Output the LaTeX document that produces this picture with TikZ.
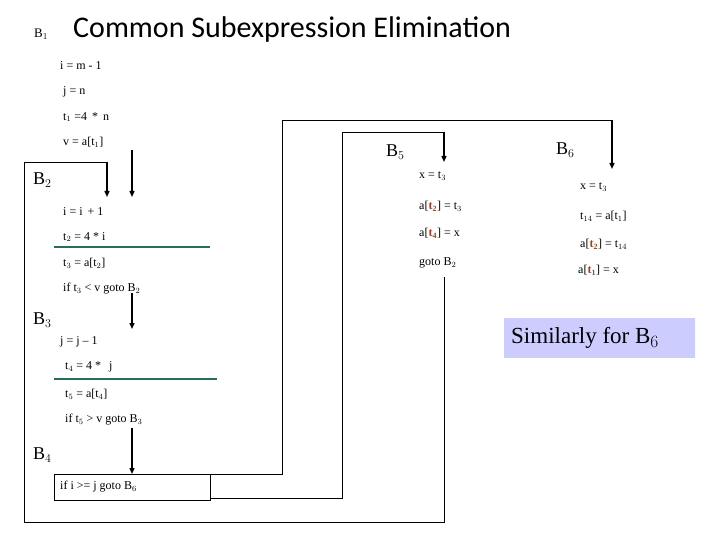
\documentclass[tikz,border=0pt]{standalone}
\usepackage{fontspec}
\setmainfont{Liberation Serif}
\newfontfamily\titlefont{Carlito}
\usetikzlibrary{arrows.meta}
\definecolor{rt}{RGB}{170,60,30}
\definecolor{gl}{RGB}{40,110,90}
\definecolor{lav}{RGB}{204,204,255}
\newcommand{\rt}[1]{\textcolor{rt}{\textbf{t}$_{\mathbf{#1}}$}}
\begin{document}
\begin{tikzpicture}[x=1pt,y=-1pt,
  code/.style={anchor=west,inner sep=0pt,font=\fontsize{12}{13}\selectfont},
  blab/.style={anchor=west,inner sep=0pt,font=\fontsize{18}{19}\selectfont},
  ln/.style={line width=0.8pt},
  ar/.style={line width=1.4pt,-{Triangle[length=6pt,width=5pt]}}]
\useasboundingbox (0,0) rectangle (720,540);
\node[blab,font=\fontsize{13}{14}\selectfont] (b1) at (34,34) {B$_1$};
\node[anchor=west,inner sep=0pt,font=\titlefont\fontsize{30}{34}\selectfont] (title) at (73,30) {Common Subexpression Elimination};
\node[code] (l1) at (60,66) {i = m - 1};
\node[code] (l2) at (63,92) {j = n};
\node[code] (l3) at (63,117) {t$_1$ =4 \,*\, n};
\node[code] (l4) at (63,142) {v = a[t$_1$]};
\node[blab] (b2) at (33,180) {B$_2$};
\node[code] (l5) at (63,212) {i = i \,+ 1};
\node[code] (l6) at (63,237) {t$_2$ = 4 * i};
\node[code] (l7) at (63,263) {t$_3$ = a[t$_2$]};
\node[code] (l8) at (63,289) {if t$_3$ < v goto B$_2$};
\node[blab] (b3) at (33,320) {B$_3$};
\node[code] (l9) at (60,342) {j = j -- 1};
\node[code] (l10) at (65,367) {t$_4$ = 4 * \, j};
\node[code] (l11) at (65,394) {t$_5$ = a[t$_4$]};
\node[code] (l12) at (65,420) {if t$_5$ > v goto B$_3$};
\node[blab] (b4) at (33,455) {B$_4$};
\node[draw,line width=0.8pt,minimum width=156pt,minimum height=26pt,anchor=north west,inner sep=0pt] (box4) at (54,474) {};
\node[code] (l13) at (60,487) {if i >= j goto B$_6$};
\node[blab] (b5) at (386,152) {B$_5$};
\node[blab] (b6) at (556,150) {B$_6$};
\node[code] (m1) at (419,176) {x = t$_3$};
\node[code] (m2) at (419,206) {a[\rt{2}] = t$_3$};
\node[code] (m3) at (419,233) {a[\rt{4}] = x};
\node[code] (m4) at (419,263) {goto B$_2$};
\node[code] (n1) at (580,187) {x = t$_3$};
\node[code] (n2) at (580,216) {t$_{14}$ = a[t$_1$]};
\node[code] (n3) at (580,244) {a[\rt{2}] = t$_{14}$};
\node[code] (n4) at (578,270) {a[\rt{1}] = x};
\node[fill=lav,minimum width=191pt,minimum height=40pt,anchor=north west,inner sep=0pt] (sim) at (504,318) {};
\node[anchor=west,inner sep=0pt,font=\fontsize{23}{26}\selectfont] at (511,338) {Similarly for B$_6$};
% green lines
\draw[gl,line width=1.6pt] (54,247) -- (210,247);
\draw[gl,line width=1.2pt] (54,379) -- (217,379);
% coordinates
\coordinate (a1) at (132,150); \coordinate (a1e) at (132,197);
\coordinate (a2) at (132,293); \coordinate (a2e) at (132,329);
\coordinate (a3) at (132,428); \coordinate (a3e) at (132,474);
\coordinate (c1) at (107,197); \coordinate (c2) at (444,277);
\coordinate (c3) at (444,162); \coordinate (c4) at (612,169);
\coordinate (d1) at (210,498);
\draw[ar] (a1) -- (a1e);
\draw[ar] (a2) -- (a2e);
\draw[ar] (a3) -- (a3e);
% loop back to B2 from B5
\draw[ln] (c2) -- (444,522) -- (24,522) -- (24,162) -- (107,162);
\draw[ar] (107,161.6) -- (c1);
% B5 entry
\draw[ln] (d1) -- (342,498) -- (342,132) -- (444,132);
\draw[ar] (444,131.6) -- (c3);
% B6 entry
\draw[ln] (box4.north east) -- (282,474) -- (282,120) -- (612,120);
\draw[ar] (612,119.6) -- (c4);
\end{tikzpicture}
\end{document}
